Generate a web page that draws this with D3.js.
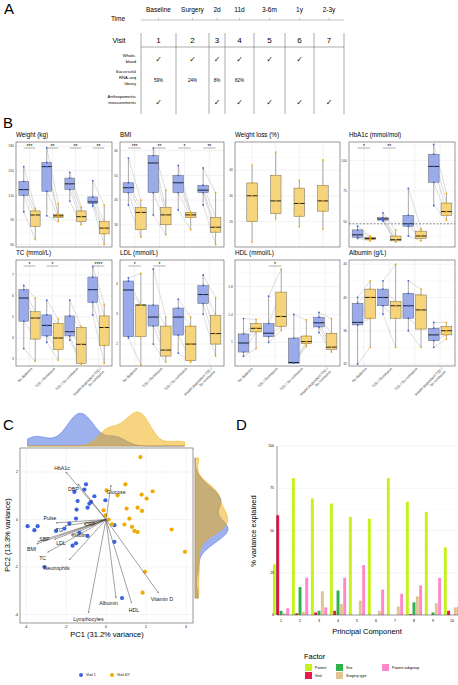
<!DOCTYPE html>
<html>
<head>
<meta charset="utf-8">
<script src="https://cdn.jsdelivr.net/npm/d3@7"></script>
<style>
    body { margin: 0; background: #fff; }
    svg { font-family: "Liberation Sans", Arial, sans-serif; }
</style>
</head>
<body>
<svg id="fig" width="458" height="685"></svg>
<script>
// ---- panel A: study timeline ----
const times = ['Baseline', 'Surgery', '2d', '11d', '3-6m', '1y', '2-3y'];
const visits = ['1', '2', '3', '4', '5', '6', '7'];
const wholeBlood = [1, 1, 1, 1, 1, 1, 0];
const rnaSeq = ['59%', '24%', '8%', '82%', '', '', ''];
const anthro = [1, 0, 1, 1, 1, 1, 1];
const visitEdges = [141, 176, 209, 225, 254, 285, 314, 344];

// ---- panel B: box stats [min, q1, median, q3, max], order blue/yellow per group ----
const groups = ['No diabetes', 'T2D / Remission', 'T2D / No remission', 'Insulin dependent T2D /|No remission'];
const weightBoxes = [[100,120,127,137,155],[66,82,96,101,104],[95,125,155,160,178],[88,93,95,97,110],
    [113,127,134,141,148],[84,88,94,101,106],[107,110,112,118,138],[60,73,80,88,108]];
const bmiBoxes = [[38,43,45,47,57],[25,28,35,37,40],[34,43,55,58,61],[26,30,34,37,44],
    [36,43,47,50,54],[28,33,34,35,35],[38,43,44,46,53],[22,27,29,33,43]];
const lossBoxes = [[12,20,30,35,42],[21,23,28,38,47],[18,22,27,33,36],[17,24,28,34,44]];
const hba1cBoxes = [[36,37,39,43,46],[34,35,36,37,38],[50,51,52,53,57],[33,34,35,38,43],
    [38,46,48,55,77],[34,36,38,42,44],[63,82,95,105,113],[51,55,58,65,73]];
const tcBoxes = [[3.5,4.8,5.9,6.3,6.5],[2.9,3.95,4.95,5.25,5.9],[3.8,4.1,4.6,5.1,5.8],[2.95,3.45,4.0,4.7,4.9],
    [3.9,4.1,4.3,5.05,5.8],[2.75,2.8,3.7,4.5,4.55],[5.1,5.7,6.3,6.9,7.4],[2.8,3.65,4.5,5.05,5.6]];
const ldlBoxes = [[2.2,2.25,3.8,4.1,4.2],[1.3,2.25,3.3,3.3,4.35],[2.0,2.6,2.9,3.3,4.5],[1.4,1.6,1.8,2.6,2.9],
    [1.7,2.3,2.9,3.2,3.5],[1.4,1.45,2.0,2.6,2.9],[3.0,3.35,3.65,3.95,4.3],[1.6,2.0,2.35,2.95,3.55]];
const hdlBoxes = [[0.8,0.86,0.99,1.12,1.34],[0.91,1.15,1.2,1.27,1.33],[1.0,1.08,1.13,1.27,1.66],[1.17,1.23,1.37,1.72,2.05],
    [0.7,0.7,0.71,1.06,1.4],[0.94,0.98,1.01,1.09,1.32],[1.14,1.22,1.28,1.36,1.43],[0.86,0.9,0.93,1.13,1.34]];
const albuminBoxes = [[32,36.7,37,39.3,40],[34,37.5,40,41,42],[38,39,40,41,42],[34,37.5,39,39.5,44],
    [36,37.5,39,40.5,42],[34,36.2,38.5,40.3,41],[34,34.8,35.5,36.3,37],[35,35.5,36,36.5,37]];

// ---- panel C: PCA ----
const visit1Points = [[-3.92,-0.28],[-3.58,-0.45],[-3.42,-0.28],[-1.58,1.16],[-1.42,0.78],[-1.0,1.48],[-1.08,1.26],
    [-0.58,0.98],[-0.75,0.74],[-0.92,0.5],[-1.47,0.42],[-0.83,0.67],[-1.5,0.04],[-1.83,-0.17],[-2.08,-0.38],
    [-1.33,-0.56],[-0.92,-0.69],[-1.5,-1.0],[-1.67,-1.1],[-2.5,-0.48],[-3.08,-2.0],[0.42,-0.24],[0.42,-0.94],
    [0.8,-3.31],[-0.03,0.81]];
const visit67Points = [[1.72,2.63],[0.97,1.48],[2.33,1.19],[1.78,1.05],[2.03,0.88],[0.58,1.02],[0.03,1.23],
    [1.03,0.46],[1.58,0.5],[1.8,0.36],[1.17,0.04],[-0.12,0.39],[-0.03,0.18],[0.13,0],[0.3,-0.2],[0.92,-0.21],
    [1.3,-0.31],[1.42,-0.48],[1.58,-0.53],[3.28,-0.42],[3.95,-1.36],[1.95,-2.2],[1.83,-3.08]];
const loadingNames = ['HbA1c','DBP','Glucose','Pulse','TG','CRP','Insulin','SBP','BMI','LDL','TC','Neutrophils','Lymphocytes','Albumin','HDL','Vitamin D'];
const loadingEnds = [[-2.0,2.0],[-1.4,1.5],[0.25,1.45],[-2.5,-0.14],[-2.05,-0.27],[-1.1,-0.2],[-1.75,-0.66],[-3.42,-0.94],
    [-3.47,-1.03],[-2.58,-0.84],[-2.92,-1.38],[-1.83,-1.7],[-0.88,-3.94],[0.5,-3.31],[1.28,-3.52],[2.63,-3.1]];
const loadingLabels = [[-2.2,2.18],[-1.63,1.3],[0.5,1.16],[-2.8,0.07],[-2.33,-0.45],[-0.8,-0.2],[-1.33,-0.66],[-3.08,-0.8],
    [-3.72,-1.24],[-2.25,-1.0],[-3.17,-1.6],[-2.47,-2.06],[-0.88,-4.17],[0.13,-3.52],[1.4,-3.8],[2.8,-3.34]];

// ---- panel D: variance explained ----
const pcs = ['1','2','3','4','5','6','7','8','9','10'];
const factors = ['Patient', 'Visit', 'Sex', 'Surgery type', 'Patient subgroup'];
const factorColors = ['#c4f21a', '#e8194b', '#2eb24c', '#e3c393', '#ff88c8'];
const patientVar = [30, 81, 69, 66, 58, 57, 81, 67, 61, 40];
const visitVar = [59, 1, 1.5, 2.5, 0, 0, 0, 0.5, 0, 2.5];
const sexVar = [2.5, 16.5, 2.5, 14.5, 0, 0, 0, 7.5, 1.5, 0];
const surgeryVar = [1, 2, 14, 6.5, 8.5, 2.5, 5, 11, 7, 4.5];
const subgroupVar = [4, 22, 4.5, 22, 29.5, 15, 12.5, 17.5, 22, 5];

const BLUE = '#3d63e0', BLUE_FILL = '#9babea', YEL = '#f0aa00', YEL_FILL = '#f5d47c';
const svg = d3.select('#fig');

function letter(t, x, y) {
    svg.append('text').attr('x', x).attr('y', y).attr('font-size', 15).text(t);
}

// ================= A =================
letter('A', 4, 14);
const gA = svg.append('g').attr('font-size', 6.5);
const colCenter = i => (visitEdges[i] + visitEdges[i + 1]) / 2;
const tick = (x, y) => gA.append('text').attr('x', x).attr('y', y).attr('text-anchor', 'middle')
    .attr('font-family', 'DejaVu Sans').attr('font-size', 8).attr('fill', '#111').text('\u2713');
gA.append('text').attr('x', 118).attr('y', 21).attr('text-anchor', 'middle').text('Time');
gA.append('text').attr('x', 119).attr('y', 43).attr('text-anchor', 'middle').attr('font-size', 7).text('Visit');
gA.append('line').attr('x1', 141).attr('x2', 344).attr('y1', 20).attr('y2', 20).attr('stroke', '#888').attr('stroke-width', 0.5);
times.forEach((t, i) => {
    gA.append('text').attr('x', colCenter(i)).attr('y', 12).attr('text-anchor', 'middle').text(t);
    gA.append('line').attr('x1', colCenter(i)).attr('x2', colCenter(i)).attr('y1', 18).attr('y2', 20).attr('stroke', '#888').attr('stroke-width', 0.5);
    gA.append('text').attr('x', colCenter(i)).attr('y', 43).attr('text-anchor', 'middle').attr('font-size', 8).text(visits[i]);
    if (wholeBlood[i]) tick(colCenter(i), 62);
    gA.append('text').attr('x', colCenter(i)).attr('y', 82).attr('text-anchor', 'middle').attr('font-size', 4.5).text(rnaSeq[i]);
    if (anthro[i]) tick(colCenter(i), 105);
});
visitEdges.forEach(x => gA.append('line').attr('x1', x).attr('x2', x).attr('y1', 33).attr('y2', 114).attr('stroke', '#555').attr('stroke-width', 0.5));
gA.append('line').attr('x1', 141).attr('x2', 344).attr('y1', 47).attr('y2', 47).attr('stroke', '#555').attr('stroke-width', 0.5);
const rowLabel = (lines, y) => lines.forEach((l, k) => gA.append('text').attr('x', 136).attr('y', y + k * 6)
    .attr('text-anchor', 'end').attr('font-size', 4.2).text(l));
rowLabel(['Whole-', 'blood'], 57);
rowLabel(['Successful', 'RNA-seq', 'library'], 73);
rowLabel(['Anthropometric', 'measurements'], 98);

// ================= B =================
letter('B', 3, 128);
function boxPanel(x0, y0, w, h, title, domain, ticks, boxes, stars, hline, lossOnly) {
    const g = svg.append('g');
    const y = d3.scaleLinear().domain(domain).range([y0 + h, y0]);
    const keys = d3.range(boxes.length);
    const x = d3.scaleBand().domain(keys).range([x0, x0 + w]).padding(lossOnly ? 0.55 : 0.15).paddingOuter(lossOnly ? 0.5 : 0.25);
    g.append('text').attr('x', x0).attr('y', y0 - 5).attr('font-size', 6.3).text(title);
    // grid
    const minor = d3.range(ticks.length - 1).map(i => (ticks[i] + ticks[i + 1]) / 2)
        .concat([ticks[0] - (ticks[1] - ticks[0]) / 2, ticks[ticks.length - 1] + (ticks[1] - ticks[0]) / 2]);
    minor.filter(v => v > domain[0] && v < domain[1]).forEach(v => g.append('line').attr('x1', x0).attr('x2', x0 + w)
        .attr('y1', y(v)).attr('y2', y(v)).attr('stroke', '#f2f2f2').attr('stroke-width', 0.4));
    ticks.forEach(v => g.append('line').attr('x1', x0).attr('x2', x0 + w).attr('y1', y(v)).attr('y2', y(v))
        .attr('stroke', '#e4e4e4').attr('stroke-width', 0.5));
    const gridX = lossOnly ? keys.map(k => x(k) + x.bandwidth() / 2)
        : d3.range(4).map(i => (x(2 * i) + x(2 * i + 1) + x.bandwidth()) / 2);
    gridX.forEach(v => g.append('line').attr('x1', v).attr('x2', v).attr('y1', y0).attr('y2', y0 + h)
        .attr('stroke', '#e4e4e4').attr('stroke-width', 0.5));
    if (hline != null) g.append('line').attr('x1', x0).attr('x2', x0 + w).attr('y1', y(hline)).attr('y2', y(hline))
        .attr('stroke', '#333').attr('stroke-dasharray', '2,1.5').attr('stroke-width', 0.6);
    // pairing lines between visits
    if (!lossOnly) {
        for (let i = 0; i < 4; i++) {
            const a = boxes[2 * i], b = boxes[2 * i + 1];
            a.forEach((v, j) => g.append('line').attr('x1', x(2 * i) + x.bandwidth() / 2).attr('x2', x(2 * i + 1) + x.bandwidth() / 2)
                .attr('y1', y(v)).attr('y2', y(b[j])).attr('stroke', '#aaa').attr('stroke-width', 0.4));
        }
    }
    boxes.forEach((s, k) => {
        const isBlue = !lossOnly && k % 2 === 0;
        const cx = x(k) + x.bandwidth() / 2, bw = x.bandwidth();
        g.append('line').attr('x1', cx).attr('x2', cx).attr('y1', y(s[0])).attr('y2', y(s[4])).attr('stroke', '#555').attr('stroke-width', 0.5);
        g.append('rect').attr('x', x(k)).attr('width', bw).attr('y', y(s[3])).attr('height', Math.max(0.5, y(s[1]) - y(s[3])))
            .attr('fill', isBlue ? BLUE_FILL : YEL_FILL).attr('stroke', '#666').attr('stroke-width', 0.5);
        g.append('line').attr('x1', x(k)).attr('x2', x(k) + bw).attr('y1', y(s[2])).attr('y2', y(s[2])).attr('stroke', '#222').attr('stroke-width', 1);
        s.forEach(v => g.append('circle').attr('cx', cx).attr('cy', y(v)).attr('r', 0.9).attr('fill', isBlue ? BLUE : YEL));
    });
    // significance
    stars.forEach((st, i) => {
        if (!st) return;
        const xa = x(2 * i) + x.bandwidth() / 2, xb = x(2 * i + 1) + x.bandwidth() / 2;
        g.append('line').attr('x1', xa).attr('x2', xb).attr('y1', y0 + 6).attr('y2', y0 + 6).attr('stroke', '#999').attr('stroke-width', 0.8);
        g.append('text').attr('x', (xa + xb) / 2).attr('y', y0 + 5.5).attr('text-anchor', 'middle').attr('font-size', 5).text(st);
    });
    g.append('rect').attr('x', x0).attr('y', y0).attr('width', w).attr('height', h).attr('fill', 'none').attr('stroke', '#555').attr('stroke-width', 0.6);
    ticks.forEach(v => g.append('text').attr('x', x0 - 2).attr('y', y(v) + 1.2).attr('text-anchor', 'end').attr('font-size', 3.4).attr('fill', '#444').text(v));
    return { x, gridX };
}
const colsB = [16, 120, 235, 349];
const wB = [96, 104, 105, 106];
boxPanel(colsB[0], 142, wB[0], 105, 'Weight (kg)', [57, 185], [60, 90, 120, 150, 180], weightBoxes, ['***', '**', '**', '**']);
boxPanel(colsB[1], 142, wB[1], 105, 'BMI', [21, 63.5], [30, 40, 50, 60], bmiBoxes, ['***', '**', '*', '**']);
boxPanel(colsB[2], 142, wB[2], 105, 'Weight loss (%)', [10, 51], [20, 30, 40], lossBoxes, [], null, true);
boxPanel(colsB[3], 142, wB[3], 105, 'HbA1c (mmol/mol)', [29, 115], [50, 75, 100], hba1cBoxes, ['*', '**'], 48);
const bottomSpecs = [
    ['TC (mmol/L)', [2.67, 7.71], [3, 4, 5, 6, 7], tcBoxes, ['*', '*', '', '****']],
    ['LDL (mmol/L)', [1.27, 4.8], [2, 3, 4], ldlBoxes, ['*', '*']],
    ['HDL (mmol/L)', [0.66, 2.18], [1.0, 1.4, 1.8], hdlBoxes, ['', '*']],
    ['Albumin (g/L)', [31.76, 44.5], [32, 36, 40, 44], albuminBoxes, []]
];
bottomSpecs.forEach((sp, i) => {
    const r = boxPanel(colsB[i], 260, wB[i], 106, sp[0], sp[1], sp[2], sp[3], sp[4]);
    r.gridX.forEach((gx, j) => {
        const lines = groups[j].split('|');
        const t = svg.append('text').attr('transform', `translate(${gx + 3},${369}) rotate(-45)`)
            .attr('text-anchor', 'end').attr('font-size', 3.6).attr('fill', '#333');
        lines.forEach((l, k) => t.append('tspan').attr('x', 0).attr('dy', k ? 4.2 : 0).text(l));
    });
});

// ================= C =================
letter('C', 3, 430);
const xC = d3.scaleLinear().domain([-4, 4]).range([26, 186]);
const yC = d3.scaleLinear().domain([0, 2]).range([519.5, 472]);
const gC = svg.append('g');
const cx0 = 20, cx1 = 193, cy0 = 448, cy1 = 623;
[-4, -2, 0, 2, 4].forEach(v => gC.append('line').attr('x1', xC(v)).attr('x2', xC(v)).attr('y1', cy0).attr('y2', cy1).attr('stroke', '#e8e8e8').attr('stroke-width', 0.5));
[-3, -1, 1, 3].forEach(v => gC.append('line').attr('x1', xC(v)).attr('x2', xC(v)).attr('y1', cy0).attr('y2', cy1).attr('stroke', '#f4f4f4').attr('stroke-width', 0.4));
[-4, -2, 0, 2].forEach(v => gC.append('line').attr('x1', cx0).attr('x2', cx1).attr('y1', yC(v)).attr('y2', yC(v)).attr('stroke', '#e8e8e8').attr('stroke-width', 0.5));
[-3, -1, 1].forEach(v => gC.append('line').attr('x1', cx0).attr('x2', cx1).attr('y1', yC(v)).attr('y2', yC(v)).attr('stroke', '#f4f4f4').attr('stroke-width', 0.4));
svg.append('defs').append('marker').attr('id', 'ah').attr('viewBox', '0 0 10 10').attr('refX', 9).attr('refY', 5)
    .attr('markerWidth', 4).attr('markerHeight', 4).attr('orient', 'auto')
    .append('path').attr('d', 'M0,1L9,5L0,9').attr('fill', 'none').attr('stroke', '#333').attr('stroke-width', 1.2);
visit1Points.forEach(p => gC.append('circle').attr('cx', xC(p[0])).attr('cy', yC(p[1])).attr('r', 2.1).attr('fill', BLUE));
visit67Points.forEach(p => gC.append('circle').attr('cx', xC(p[0])).attr('cy', yC(p[1])).attr('r', 2.1).attr('fill', YEL));
loadingEnds.forEach(p => gC.append('line').attr('x1', xC(0)).attr('y1', yC(0)).attr('x2', xC(p[0])).attr('y2', yC(p[1]))
    .attr('stroke', '#444').attr('stroke-width', 0.5).attr('marker-end', 'url(#ah)'));
loadingNames.forEach((n, i) => gC.append('text').attr('x', xC(loadingLabels[i][0])).attr('y', yC(loadingLabels[i][1]) + 2)
    .attr('text-anchor', 'middle').attr('font-size', 5.2).attr('fill', '#222').text(n));
gC.append('rect').attr('x', cx0).attr('y', cy0).attr('width', cx1 - cx0).attr('height', cy1 - cy0).attr('fill', 'none').attr('stroke', '#555').attr('stroke-width', 0.6);
[-4, -2, 0, 2, 4].forEach(v => gC.append('text').attr('x', xC(v)).attr('y', cy1 + 5).attr('text-anchor', 'middle').attr('font-size', 3.4).text(v));
[-4, -2, 0, 2].forEach(v => gC.append('text').attr('x', cx0 - 2).attr('y', yC(v) + 1.2).attr('text-anchor', 'end').attr('font-size', 3.4).text(v));
gC.append('text').attr('x', 107).attr('y', 637).attr('text-anchor', 'middle').attr('font-size', 7.5).text('PC1 (31.2% variance)');
gC.append('text').attr('transform', 'translate(10,535) rotate(-90)').attr('text-anchor', 'middle').attr('font-size', 7.5).text('PC2 (13.3% variance)');

// marginal densities
function kde(values, bw, grid) {
    return grid.map(t => [t, d3.mean(values, v => Math.exp(-0.5 * ((t - v) / bw) ** 2)) / (bw * Math.sqrt(2 * Math.PI))]);
}
const gridX = d3.range(-3.92, 3.96, 0.05);
const gridY = d3.range(-3.31, 2.64, 0.05);
const dxB = kde(visit1Points.map(p => p[0]), 0.45, gridX), dxY = kde(visit67Points.map(p => p[0]), 0.45, gridX);
const dyB = kde(visit1Points.map(p => p[1]), 0.38, gridY), dyY = kde(visit67Points.map(p => p[1]), 0.38, gridY);
const dTop = d3.scaleLinear().domain([0, d3.max(dxB.concat(dxY), d => d[1])]).range([446, 412]);
const dRight = d3.scaleLinear().domain([0, d3.max(dyB.concat(dyY), d => d[1])]).range([195, 228]);
const areaTop = d3.area().x(d => xC(d[0])).y0(446).y1(d => dTop(d[1])).curve(d3.curveBasis);
const areaRight = d3.area().y(d => yC(d[0])).x0(195).x1(d => dRight(d[1])).curve(d3.curveBasis);
[[dxB, BLUE], [dxY, YEL]].forEach(([d, c]) => svg.append('path').attr('d', areaTop(d)).attr('fill', c).attr('fill-opacity', 0.5).attr('stroke', c).attr('stroke-width', 0.5));
[[dyB, BLUE], [dyY, YEL]].forEach(([d, c]) => svg.append('path').attr('d', areaRight(d)).attr('fill', c).attr('fill-opacity', 0.5).attr('stroke', c).attr('stroke-width', 0.5));
// legend
[['Visit 1', BLUE, 81], ['Visit 6/7', YEL, 112]].forEach(([t, c, lx]) => {
    svg.append('circle').attr('cx', lx).attr('cy', 675).attr('r', 2).attr('fill', c);
    svg.append('text').attr('x', lx + 5).attr('y', 676.3).attr('font-size', 3.6).text(t);
});

// ================= D =================
letter('D', 236, 430);
const yD = d3.scaleLinear().domain([0, 100]).range([615, 446]);
const xD = d3.scaleBand().domain(pcs).range([272.5, 460.5]).paddingInner(0.1);
const xF = d3.scaleBand().domain(factors).range([0, xD.bandwidth()]).padding(0.12);
const gD = svg.append('g');
[12.5, 37.5, 62.5, 87.5].forEach(v => gD.append('line').attr('x1', 277).attr('x2', 458).attr('y1', yD(v)).attr('y2', yD(v)).attr('stroke', '#f3f3f3').attr('stroke-width', 0.4));
[25, 50, 75, 100].forEach(v => gD.append('line').attr('x1', 277).attr('x2', 458).attr('y1', yD(v)).attr('y2', yD(v)).attr('stroke', '#e8e8e8').attr('stroke-width', 0.5));
const seriesD = [patientVar, visitVar, sexVar, surgeryVar, subgroupVar];
pcs.forEach((pc, i) => {
    factors.forEach((f, j) => {
        const v = seriesD[j][i];
        gD.append('rect').attr('x', xD(pc) + xF(f)).attr('width', xF.bandwidth())
            .attr('y', yD(v)).attr('height', yD(0) - yD(v)).attr('fill', factorColors[j]);
    });
});
gD.append('line').attr('x1', 277).attr('x2', 277).attr('y1', 446).attr('y2', 615).attr('stroke', '#333').attr('stroke-width', 0.5);
gD.append('line').attr('x1', 277).attr('x2', 458).attr('y1', 615).attr('y2', 615).attr('stroke', '#333').attr('stroke-width', 0.5);
[0, 25, 50, 75, 100].forEach(v => gD.append('text').attr('x', 274).attr('y', yD(v) + 1.2).attr('text-anchor', 'end').attr('font-size', 3.4).text(v));
pcs.forEach(pc => gD.append('text').attr('x', xD(pc) + xD.bandwidth() / 2).attr('y', 622).attr('text-anchor', 'middle').attr('font-size', 3.6).text(pc));
gD.append('text').attr('x', 367).attr('y', 634).attr('text-anchor', 'middle').attr('font-size', 7.5).text('Principal Component');
gD.append('text').attr('transform', 'translate(256,531) rotate(-90)').attr('text-anchor', 'middle').attr('font-size', 7.5).text('% variance explained');
gD.append('text').attr('x', 304).attr('y', 659).attr('font-size', 7.5).text('Factor');
const legPos = [[305, 664], [305, 672], [336, 664], [336, 672], [382, 664]];
factors.forEach((f, j) => {
    gD.append('rect').attr('x', legPos[j][0]).attr('y', legPos[j][1]).attr('width', 7).attr('height', 7).attr('fill', factorColors[j]);
    gD.append('text').attr('x', legPos[j][0] + 10).attr('y', legPos[j][1] + 5).attr('font-size', 3.6).text(f);
});
</script>
</body>
</html>
